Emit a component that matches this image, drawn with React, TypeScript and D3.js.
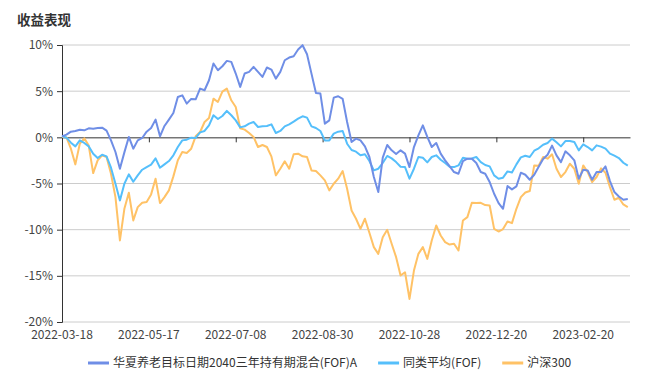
import React, { useRef, useEffect } from 'react';
import * as d3 from 'd3';

// 收益表现 - sampled every 2 trading days, values in %
const tickLabels = ['2022-03-18', '2022-05-17', '2022-07-08', '2022-08-30', '2022-10-28', '2022-12-20', '2023-02-20'];
const tickDays = [0, 39, 78, 117, 156, 195, 234];
const totalDays = 255;
const seriesNames = ['华夏养老目标日期2040三年持有期混合(FOF)A', '同类平均(FOF)', '沪深300'];
const seriesColors = ['#6f8ee6', '#55bffb', '#ffc266'];

const fundValues = [
  0.11, 0.29, 0.61, 0.69, 0.83, 0.76, 0.98, 0.94, 1.01, 1.05,
  0.72, -0.33, -1.59, -3.4, -1.63, 0.04, -1.23, -0.33, -0.07, 0.61,
  1.01, 1.92, 0.11, 1.23, 1.92, 2.64, 4.37, 4.55, 3.65, 4.16,
  4.12, 5.28, 5.1, 6.18, 7.99, 7.27, 7.7, 8.28, 8.17, 6.91,
  5.46, 6.91, 7.09, 7.63, 7.09, 6.54, 7.56, 7.34, 6.36, 7.09,
  8.35, 8.64, 8.78, 9.51, 9.98, 9.0, 6.9, 4.81, 4.74, 1.48,
  1.84, 4.3, 4.45, 4.16, 1.66, -0.51, -0.14, -0.33, -0.98, -2.13,
  -4.3, -5.93, -2.2, -0.83, -1.41, -1.81, -1.41, -1.77, -3.22, -1.05,
  0.22, 1.3, 0.04, -1.05, -0.61, -1.77, -2.49, -3.11, -3.76, -3.94,
  -2.57, -2.31, -2.31, -2.78, -3.76, -3.94, -4.84, -6.11, -7.12, -7.74,
  -5.28, -5.64, -5.31, -3.83, -4.05, -4.59, -4.05, -3.18, -2.35, -1.88,
  -0.9, -1.95, -2.68, -1.52, -1.95, -2.49, -4.48, -3.51, -3.58, -4.59,
  -3.76, -3.76, -3.15, -4.74, -5.93, -6.4, -6.76, -6.69,
];

const peerValues = [
  0.14, -0.04, -0.58, -0.98, -0.33, -0.61, -0.98, -1.77, -2.24, -1.88,
  -2.06, -3.29, -5.03, -6.83, -5.03, -4.01, -4.81, -4.12, -3.51, -3.22,
  -2.96, -2.28, -3.29, -2.93, -2.57, -1.95, -1.05, -0.33, -0.25, -0.04,
  -0.07, 0.54, 0.69, 1.3, 2.39, 1.99, 2.31, 2.86, 2.39, 1.84,
  1.08, 1.19, 1.48, 1.66, 1.12, 1.19, 1.23, 1.41, 0.47, 0.69,
  1.19, 1.41, 1.7, 2.02, 2.28, 2.13, 1.19, 1.01, 0.69, -0.33,
  -0.33, 0.4, 0.61, 0.69, -0.69, -1.37, -1.55, -1.95, -1.84, -2.57,
  -3.58, -3.4, -2.78, -2.02, -2.28, -2.68, -3.18, -3.22, -4.48, -3.4,
  -2.13, -2.21, -2.71, -2.13, -1.95, -2.42, -2.78, -3.18, -3.22, -3.04,
  -2.21, -2.31, -2.28, -2.13, -2.68, -3.0, -3.15, -4.12, -4.48, -4.37,
  -3.69, -3.8, -2.93, -2.17, -1.99, -2.13, -1.45, -1.19, -0.8, -0.61,
  -0.14, -0.54, -0.98, -0.4, -0.4, -0.51, -1.41, -0.76, -1.05, -1.41,
  -0.87, -1.01, -1.23, -1.77, -1.99, -2.24, -2.75, -3.07,
];

const hs300Values = [
  0.04, 0.0, -1.23, -2.93, -0.69, -0.11, -0.9, -3.87, -2.49, -1.95,
  -2.13, -3.94, -6.47, -11.17, -7.74, -6.0, -9.0, -7.56, -7.09, -7.01,
  -6.18, -4.48, -7.12, -6.47, -5.75, -4.23, -2.49, -1.59, -1.7, -1.23,
  0.11, 0.58, 1.66, 2.1, 4.19, 3.83, 4.95, 5.28, 4.01, 3.29,
  0.98, 0.83, 0.47, 0.04, -1.05, -0.83, -1.05, -2.06, -4.12, -3.4,
  -2.6, -3.4, -1.84, -1.77, -2.06, -2.13, -3.58, -3.65, -4.12, -4.66,
  -5.75, -5.03, -4.48, -3.65, -5.57, -7.92, -8.82, -9.91, -8.82, -10.34,
  -11.89, -12.62, -10.81, -10.01, -11.53, -12.98, -14.97, -14.61, -17.5, -14.43,
  -12.62, -11.89, -13.16, -11.17, -9.54, -10.63, -11.35, -11.61, -11.53, -12.26,
  -9.0, -8.64, -7.09, -7.12, -7.09, -7.34, -7.38, -9.91, -10.2, -9.94,
  -9.11, -9.29, -7.74, -6.47, -5.97, -5.82, -3.04, -3.07, -2.13, -2.31,
  -1.84, -3.4, -4.3, -3.76, -2.86, -3.4, -5.03, -3.04, -3.76, -4.84,
  -4.3, -3.36, -3.83, -5.39, -6.76, -6.54, -7.27, -7.56,
];

const yTicks = [10, 5, 0, -5, -10, -15, -20];

const App = () => {
  const svgRef = useRef(null);

  useEffect(() => {
    const width = 656;
    const height = 389;
    const margin = { top: 45, right: 26, bottom: 67, left: 62 };
    const font = '"Noto Sans CJK SC", "Noto Sans", sans-serif';

    const svg = d3.select(svgRef.current);
    svg.selectAll('*').remove();
    svg.attr('width', width).attr('height', height);

    const x = d3.scaleLinear().domain([0, totalDays]).range([margin.left, width - margin.right]);
    const y = d3.scaleLinear().domain([-20, 10]).range([height - margin.bottom, margin.top]);

    // title
    svg.append('text')
      .attr('x', 17)
      .attr('y', 25)
      .attr('font-family', font)
      .attr('font-size', 13.5)
      .attr('font-weight', 'bold')
      .attr('fill', '#333')
      .text('收益表现');

    // grid lines
    svg.append('g')
      .selectAll('line')
      .data(yTicks.filter(d => d !== 0))
      .enter()
      .append('line')
      .attr('x1', x(0))
      .attr('x2', x(totalDays))
      .attr('y1', d => y(d))
      .attr('y2', d => y(d))
      .attr('stroke', '#cccccc')
      .attr('stroke-width', 1);

    // y axis
    const yAxis = svg.append('g')
      .attr('transform', `translate(${x(0)},0)`)
      .call(d3.axisLeft(y).tickValues(yTicks).tickSize(5).tickPadding(4).tickFormat(d => `${d}%`));
    yAxis.select('.domain').attr('stroke', '#333');
    yAxis.selectAll('.tick line').attr('stroke', '#333');
    yAxis.selectAll('text')
      .attr('font-family', font)
      .attr('font-size', 12)
      .attr('fill', '#444');

    // x axis on the zero line
    const xAxis = svg.append('g')
      .attr('transform', `translate(0,${y(0)})`)
      .call(d3.axisBottom(x).tickValues(tickDays).tickSize(5).tickSizeOuter(0).tickFormat(() => ''));
    xAxis.select('.domain').attr('stroke', '#333');
    xAxis.selectAll('.tick line').attr('stroke', '#333');

    // x tick labels under the chart
    svg.append('g')
      .selectAll('text')
      .data(tickLabels)
      .enter()
      .append('text')
      .attr('x', (d, i) => x(tickDays[i]))
      .attr('y', y(-20) + 17)
      .attr('text-anchor', 'middle')
      .attr('font-family', font)
      .attr('font-size', 12)
      .attr('fill', '#444')
      .text(d => d);

    // lines
    const allSeries = [fundValues, peerValues, hs300Values];
    const line = d3.line()
      .x((d, i) => x(i * 2))
      .y(d => y(d));

    [2, 1, 0].forEach(s => {
      svg.append('path')
        .datum(allSeries[s])
        .attr('fill', 'none')
        .attr('stroke', seriesColors[s])
        .attr('stroke-width', 2)
        .attr('stroke-linejoin', 'round')
        .attr('d', line);
    });

    // legend
    const legend = svg.append('g');
    let lx = 88;
    const ly = 363;
    seriesNames.forEach((name, i) => {
      legend.append('line')
        .attr('x1', lx)
        .attr('x2', lx + 21)
        .attr('y1', ly)
        .attr('y2', ly)
        .attr('stroke', seriesColors[i])
        .attr('stroke-width', 3);
      const t = legend.append('text')
        .attr('x', lx + 25)
        .attr('y', ly)
        .attr('dy', '0.35em')
        .attr('font-family', font)
        .attr('font-size', 12)
        .attr('fill', '#333')
        .text(name);
      const w = t.node().getComputedTextLength();
      lx += 25 + w + 21;
    });
  }, []);

  return (
    <svg
      ref={svgRef}
      style={{ position: 'absolute', left: 0, top: 0, background: '#fff' }}
    />
  );
};

export default App;
